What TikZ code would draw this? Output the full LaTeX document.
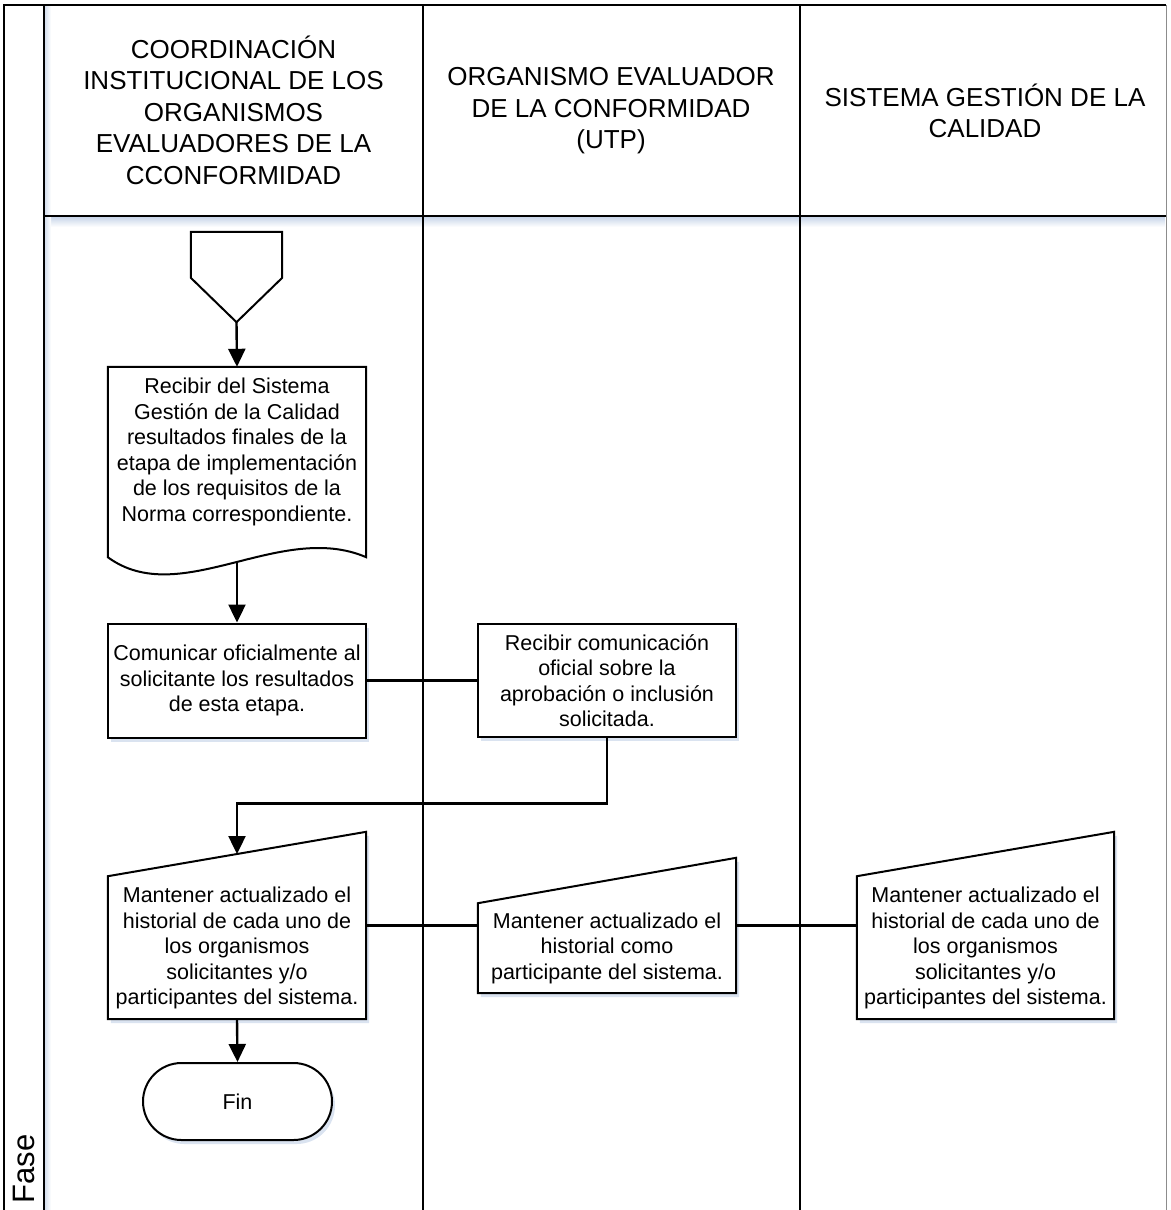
\documentclass[tikz,border=0pt]{standalone}
\usepackage{fontspec}
\setmainfont{Liberation Sans}
\usetikzlibrary{arrows.meta,calc,shadows}
\definecolor{shadowblue}{RGB}{188,204,228}

\begin{document}
\begin{tikzpicture}[x=1pt,y=-1pt,
  frame/.style={line width=1.8pt},
  body/.style={font=\fontsize{21.5}{25.5}\selectfont, align=center},
  head/.style={font=\fontsize{26}{31.5}\selectfont, align=center},
  boxshadow/.style={drop shadow={shadow xshift=3pt, shadow yshift=-4pt, fill=shadowblue, opacity=0.55}},
  outline/.style={draw=black, line width=2pt, fill=white},
  frameonly/.style={inner sep=0pt, draw=none},
  flow/.style={line width=2.4pt},
  arr/.style={flow, -{Triangle[length=18pt,width=17pt]}},
]
\useasboundingbox (0,0) rectangle (1170,1210);

% soft shading along the swimlane borders
\fill[top color=shadowblue!80, bottom color=white, draw=none] (45,217) rectangle (1165,227);
\fill[left color=shadowblue!60, right color=white, draw=none] (45,5) rectangle (51,1210);

% swimlane frame
\draw[frame] (3,5) -- (1166,5);
\draw[frame] (4,5) -- (4,1210);
\draw[frame] (44,5) -- (44,1210);
\draw[frame] (423,5) -- (423,1210);
\draw[frame] (800,5) -- (800,1210);
\draw[frame] (44,216) -- (1166,216);
\draw[line width=1pt, black!45] (1166,5) -- (1166,1210);

% lane headers
\node[head] (h1) at (233.5,110) {COORDINACIÓN\\INSTITUCIONAL DE LOS\\ORGANISMOS\\EVALUADORES DE LA\\CCONFORMIDAD};
\node[head] (h2) at (611,111) {ORGANISMO EVALUADOR\\DE LA CONFORMIDAD\\(UTP)};
\node[head] (h3) at (985,111) {SISTEMA GESTIÓN DE LA\\CALIDAD};

% phase label
\node[font=\fontsize{31}{31}\selectfont, rotate=90, inner sep=0pt] (fase) at (23.5,1169) {Fase};

% off-page connector
\node[frameonly, minimum width=91pt, minimum height=90pt] (start) at (236.5,277) {};
\draw[outline] (start.north west) -- (start.north east) -- ($(start.north east)+(0,46)$)
  -- (start.south) -- ($(start.north west)+(0,46)$) -- cycle;

% document
\node[frameonly, minimum width=258pt, minimum height=190pt] (doc) at (237,462) {};
\draw[outline] (doc.south west) -- (doc.north west) -- (doc.north east) -- (doc.south east)
  .. controls ($(doc.south east)+(-86,-37)$) and ($(doc.south east)+(-186,53)$) .. (doc.south west) -- cycle;
\node[body] (doctext) at (237,452) {Recibir del Sistema\\Gestión de la Calidad\\resultados finales de la\\etapa de implementación\\de los requisitos de la\\Norma correspondiente.};
\coordinate (docout) at (237,563);

% process boxes
\node[outline, boxshadow, body, inner sep=0pt, minimum width=258pt, minimum height=114pt] (com) at (237,680.5)
  {Comunicar oficialmente al\\solicitante los resultados\\de esta etapa.};
\node[outline, boxshadow, body, inner sep=0pt, minimum width=258pt, minimum height=113pt] (rec) at (607,680.5)
  {Recibir comunicación\\oficial sobre la\\aprobación o inclusión\\solicitada.};

% manual input shapes
\node[frameonly, minimum width=258pt, minimum height=187pt] (m1) at (237,925.5) {};
\draw[outline, boxshadow] (m1.south west) -- (m1.south east) -- (m1.north east) -- ($(m1.south west)+(0,-143)$) -- cycle;
\node[body] (m1t) at (237,948) {Mantener actualizado el\\historial de cada uno de\\los organismos\\solicitantes y/o\\participantes del sistema.};

\node[frameonly, minimum width=258pt, minimum height=135pt] (m2) at (607,925.5) {};
\draw[outline, boxshadow] (m2.south west) -- (m2.south east) -- (m2.north east) -- ($(m2.south west)+(0,-90)$) -- cycle;
\node[body] (m2t) at (607,948) {Mantener actualizado el\\historial como\\participante del sistema.};

\node[frameonly, minimum width=257pt, minimum height=187pt] (m3) at (985.5,925.5) {};
\draw[outline, boxshadow] (m3.south west) -- (m3.south east) -- (m3.north east) -- ($(m3.south west)+(0,-143)$) -- cycle;
\node[body] (m3t) at (985.5,948) {Mantener actualizado el\\historial de cada uno de\\los organismos\\solicitantes y/o\\participantes del sistema.};

% terminator
\node[outline, boxshadow, body, inner sep=0pt, minimum width=189pt, minimum height=77pt, rounded corners=38.5pt] (fin) at (237.5,1101.5) {Fin};

% connectors
\coordinate (bend) at (607,803.5);
\coordinate (m1in) at (237,854);
\draw[arr] (start.south) -- (doc.north);
\draw[arr] (docout) -- (com.north);
\draw[flow] (com.east) -- (rec.west);
\draw[arr] (rec.south) -- (bend) -| (m1in);
\draw[flow] (m1.east) -- (m2.west);
\draw[flow] (m2.east) -- (m3.west);
\draw[arr] (m1.south) -- (fin.north);
\end{tikzpicture}
\end{document}
